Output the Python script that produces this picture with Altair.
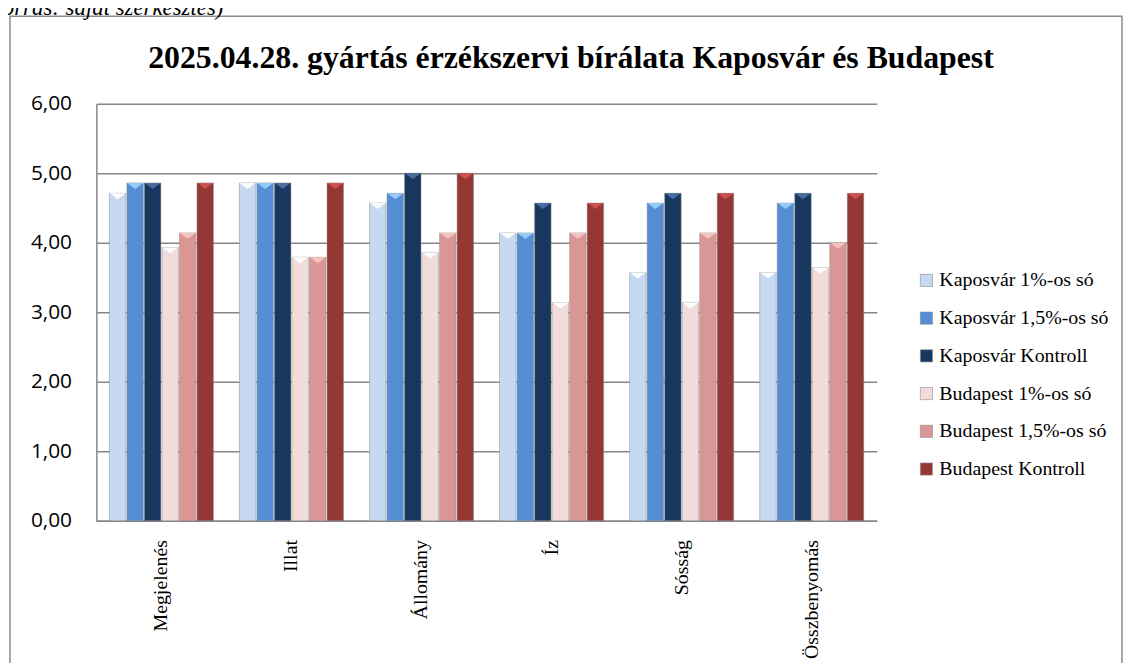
import altair as alt
import pandas as pd

categories = ["Megjelenés", "Illat", "Állomány", "Íz", "Sósság", "Összbenyomás"]
series = [
    "Kaposvár 1%-os só",
    "Kaposvár 1,5%-os só",
    "Kaposvár Kontroll",
    "Budapest 1%-os só",
    "Budapest 1,5%-os só",
    "Budapest Kontroll",
]
kap_1 = [4.71, 4.86, 4.57, 4.14, 3.57, 3.57]
kap_15 = [4.86, 4.86, 4.71, 4.14, 4.57, 4.57]
kap_k = [4.86, 4.86, 5.00, 4.57, 4.71, 4.71]
bud_1 = [3.93, 3.79, 3.86, 3.14, 3.14, 3.64]
bud_15 = [4.14, 3.79, 4.14, 4.14, 4.14, 4.00]
bud_k = [4.86, 4.86, 5.00, 4.57, 4.71, 4.71]
y_ticks = [0, 1, 2, 3, 4, 5, 6]

colors = ["#c6d9f1", "#558ed5", "#17375e", "#f2dcdb", "#d99694", "#953735"]
highlights = ["#ffffff", "#9fd0fa", "#4f72a3", "#ffffff", "#f7c6c4", "#cf5552"]

title_text = "2025.04.28. gyártás érzékszervi bírálata Kaposvár és Budapest"
caption_text = "(Forrás: saját szerkesztés)"

rows = []
for s, vals in zip(series, [kap_1, kap_15, kap_k, bud_1, bud_15, bud_k]):
    for c, v in zip(categories, vals):
        rows.append({"category": c, "series": s, "value": v})
df = pd.DataFrame(rows)

one = pd.DataFrame({"a": [0]})

x_enc = alt.X(
    "category:N",
    sort=categories,
    title=None,
    scale=alt.Scale(paddingInner=0.2, paddingOuter=0.1),
    axis=alt.Axis(
        labelAngle=-90,
        labelFont="Liberation Serif",
        labelFontSize=20,
        labelColor="#000000",
        labelPadding=19,
        ticks=False,
        domainColor="#868686",
        domainWidth=1.5,
        grid=False,
    ),
)
xoff_enc = alt.XOffset("series:N", sort=series, scale=alt.Scale(paddingInner=0.06))
y_enc = alt.Y(
    "value:Q",
    title=None,
    scale=alt.Scale(domain=[0, 6], nice=False),
    axis=alt.Axis(
        values=y_ticks,
        labelExpr="replace(format(datum.value, '.2f'), '.', ',')",
        labelFont="Open Sans",
        labelFontSize=21,
        labelColor="#000000",
        labelPadding=25,
        ticks=False,
        domainColor="#868686",
        domainWidth=1.5,
        gridColor="#868686",
        gridWidth=1.5,
    ),
)

bars = alt.Chart(df).mark_bar(stroke="#8a8a8a", strokeWidth=0.6, strokeOpacity=0.8).encode(
    x=x_enc,
    xOffset=xoff_enc,
    y=y_enc,
    color=alt.Color(
        "series:N",
        sort=series,
        scale=alt.Scale(domain=series, range=colors),
        legend=alt.Legend(
            title=None,
            orient="none",
            legendX=826,
            legendY=168,
            symbolType="square",
            symbolSize=150,
            symbolStrokeColor="#8a8a8a",
            symbolStrokeWidth=0.6,
            labelFont="Liberation Serif",
            labelFontSize=20,
            labelColor="#000000",
            labelLimit=300,
            rowPadding=18,
            labelOffset=3,
            padding=0,
        ),
    ),
)

tops = alt.Chart(df).mark_point(
    shape="M-1,0L1,0L0,0.75Z", filled=True, size=260, opacity=0.9
).encode(
    x=alt.X("category:N", sort=categories),
    xOffset=alt.XOffset("series:N", sort=series),
    y=alt.Y("value:Q"),
    color=alt.Color(
        "series:N", sort=series, scale=alt.Scale(domain=series, range=highlights), legend=None
    ),
)

border = alt.Chart(one).mark_rect(fillOpacity=0, stroke="#8c8c8c", strokeWidth=1.5).encode(
    x=alt.value(-87), x2=alt.value(1033), y=alt.value(-88), y2=alt.value(620)
)

title = alt.Chart(one).mark_text(
    text=title_text,
    font="Liberation Serif",
    fontSize=32,
    fontWeight="bold",
    color="#000000",
    baseline="middle",
    align="center",
).encode(x=alt.value(478), y=alt.value(-46))

caption = alt.Chart(one).mark_text(
    text=caption_text,
    font="Liberation Serif",
    fontSize=23,
    fontStyle="italic",
    color="#000000",
    baseline="alphabetic",
    align="right",
).encode(x=alt.value(128), y=alt.value(-89))

chart = (
    alt.layer(border, bars, tops, title, caption)
    .resolve_scale(color="independent")
    .properties(
        width=786,
        height=420,
        padding={"left": 89, "top": 94, "right": 249, "bottom": 141},
        autosize=alt.AutoSizeParams(type="none"),
        background="#ffffff",
    )
    .configure_view(stroke=None)
)

chart.save("out.html", embed_options={"renderer": "svg", "actions": False})
